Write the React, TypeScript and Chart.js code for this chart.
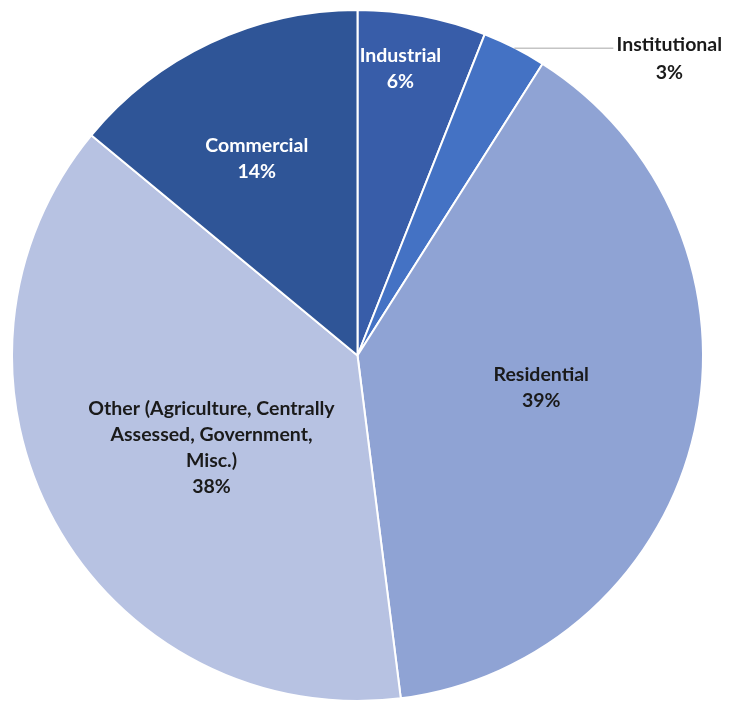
import React, { useEffect, useRef } from "react";
import { Chart, registerables } from "chart.js";

Chart.register(...registerables);

const categories = ["Industrial", "Institutional", "Residential", "Other (Agriculture, Centrally Assessed, Government, Misc.)", "Commercial"];
const labelLines = [["Industrial"], ["Institutional"], ["Residential"], ["Other (Agriculture, Centrally", "Assessed, Government,", "Misc.)"], ["Commercial"]];
const values = [6, 3, 39, 38, 14];
const colors = ["#385DA9", "#4472C4", "#8FA3D4", "#B7C2E2", "#2F5597"];
const textColors = ["#FFFFFF", "#1A1A1A", "#1A1A1A", "#1A1A1A", "#FFFFFF"];
// label placement: radial fraction and angle tweak (deg); null => outside with leader
const labelRadial = [0.84, null, 0.54, 0.5, 0.64];
const labelAngleTweak = [-2.3, 0, -2.6, -3.5, -1.9];

const FONT = "bold 19.5px Lato, 'Open Sans', sans-serif";
const LINE_H = 26;

const labelPlugin = {
  id: "sliceLabels",
  afterDraw(chart: any) {
    const ctx = chart.ctx;
    const meta = chart.getDatasetMeta(0);
    const total = values.reduce((a, b) => a + b, 0);
    ctx.save();
    ctx.font = FONT;
    ctx.textAlign = "center";
    ctx.textBaseline = "middle";
    meta.data.forEach((arc: any, i: number) => {
      const { x, y, startAngle, endAngle, outerRadius } = arc.getProps(["x", "y", "startAngle", "endAngle", "outerRadius"], true);
      const mid = (startAngle + endAngle) / 2 + (labelAngleTweak[i] * Math.PI) / 180;
      const pct = Math.round((values[i] / total) * 100) + "%";
      const lines = [...labelLines[i], pct];
      ctx.fillStyle = textColors[i];
      if (labelRadial[i] !== null) {
        const r = outerRadius * (labelRadial[i] as number);
        const cx = x + Math.cos(mid) * r;
        const cy = y + Math.sin(mid) * r;
        const top = cy - ((lines.length - 1) * LINE_H) / 2;
        lines.forEach((t, k) => ctx.fillText(t, cx, top + k * LINE_H));
      } else {
        const px = x + Math.cos(mid) * outerRadius;
        const py = y + Math.sin(mid) * outerRadius;
        const lineEnd = px + 99;
        ctx.strokeStyle = "#A6A6A6";
        ctx.lineWidth = 1;
        ctx.beginPath();
        ctx.moveTo(px, py + 0.5);
        ctx.lineTo(lineEnd, py + 0.5);
        ctx.stroke();
        const cx = lineEnd + 56;
        const top = py - 3;
        lines.forEach((t, k) => ctx.fillText(t, cx, top + k * 28));
      }
    });
    ctx.restore();
  },
};

export default function App() {
  const ref = useRef<HTMLCanvasElement | null>(null);
  useEffect(() => {
    if (!ref.current) return;
    const chart = new Chart(ref.current, {
      type: "pie",
      data: {
        labels: categories,
        datasets: [
          {
            data: values,
            backgroundColor: colors,
            borderColor: "#FFFFFF",
            borderWidth: 2,
          },
        ],
      },
      options: {
        responsive: false,
        animation: false,
        layout: { padding: { left: 9, right: 33, top: 9, bottom: -3 } },
        plugins: {
          legend: { display: false },
          tooltip: { enabled: false },
        },
      },
      plugins: [labelPlugin],
    });
    return () => chart.destroy();
  }, []);
  return (
    <div style={{ position: "fixed", left: 0, top: 0, width: 739, height: 702, background: "#FFFFFF" }}>
      <canvas ref={ref} width={739} height={702} />
    </div>
  );
}
